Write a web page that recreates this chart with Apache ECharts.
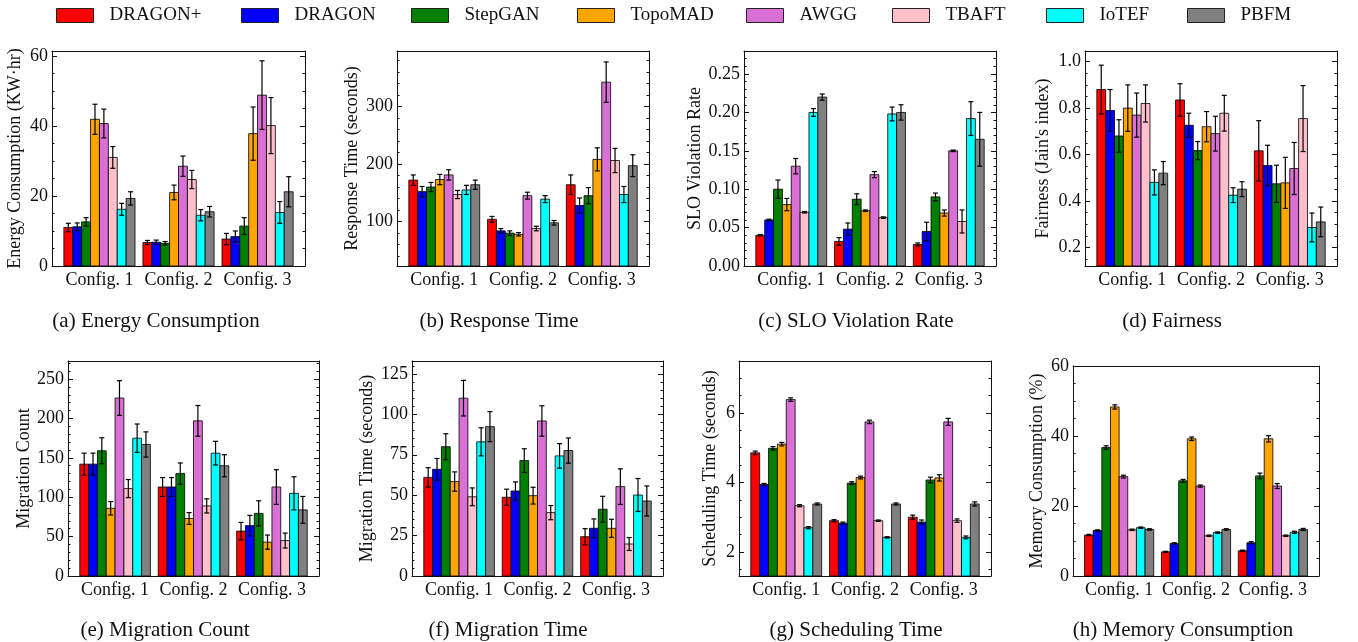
<!DOCTYPE html>
<html>
<head>
<meta charset="utf-8">
<script src="https://cdn.jsdelivr.net/npm/echarts@6/dist/echarts.min.js"></script>
<style>
html, body { margin: 0; padding: 0; background: #fff; }
#chart { width: 1358px; height: 642px; }
</style>
</head>
<body>
<div id="chart"></div>
<script>
const methods = ['DRAGON+', 'DRAGON', 'StepGAN', 'TopoMAD', 'AWGG', 'TBAFT', 'IoTEF', 'PBFM'];
const colors = ['#ff0000', '#0000ff', '#008000', '#ffa500', '#da70d6', '#ffc0cb', '#00ffff', '#808080'];
const configs = ['Config. 1', 'Config. 2', 'Config. 3'];

// one row per method, one column per config
const energyMean = [[11.0, 6.7, 7.7], [11.2, 6.8, 8.4], [12.6, 6.5, 11.4], [41.9, 21.0, 37.8], [40.7, 28.5, 48.8], [31.0, 24.7, 40.1], [16.2, 14.5, 15.3], [19.3, 15.5, 21.2]];
const energyErr = [[1.2, 0.6, 1.6], [1.1, 0.6, 1.6], [1.2, 0.5, 2.4], [4.3, 2.1, 7.6], [4.1, 2.9, 9.8], [3.1, 2.6, 8.0], [1.7, 1.6, 3.1], [1.9, 1.5, 4.3]];

const respMean = [[172, 104, 164], [152, 84, 128], [160, 80, 145], [173, 78, 208], [181, 145, 342], [147, 88, 206], [155, 139, 147], [164, 98, 197]];
const respErr = [[9, 5, 17], [9, 4, 13], [8, 4, 14], [9, 3, 20], [9, 6, 35], [7, 4, 21], [8, 6, 14], [8, 4, 19]];

const sloMean = [[0.040, 0.032, 0.028], [0.060, 0.048, 0.045], [0.100, 0.087, 0.090], [0.080, 0.072, 0.069], [0.130, 0.119, 0.150], [0.070, 0.063, 0.058], [0.200, 0.198, 0.192], [0.220, 0.200, 0.165]];
const sloErr = [[0.001, 0.005, 0.002], [0.001, 0.008, 0.012], [0.012, 0.007, 0.005], [0.008, 0.001, 0.004], [0.010, 0.004, 0.001], [0.001, 0.001, 0.015], [0.005, 0.009, 0.022], [0.004, 0.010, 0.035]];

const fairMean = [[0.880, 0.835, 0.616], [0.790, 0.726, 0.553], [0.680, 0.617, 0.474], [0.800, 0.720, 0.478], [0.770, 0.690, 0.540], [0.820, 0.778, 0.755], [0.480, 0.425, 0.286], [0.520, 0.451, 0.310]];
const fairErr = [[0.105, 0.070, 0.130], [0.090, 0.052, 0.087], [0.070, 0.039, 0.080], [0.100, 0.065, 0.110], [0.095, 0.075, 0.112], [0.080, 0.077, 0.142], [0.054, 0.032, 0.062], [0.050, 0.032, 0.064]];

const migCountMean = [[142, 113, 57], [142, 113, 64], [159, 130, 79.5], [86, 73, 43], [226, 197, 113], [111, 89, 45], [175, 156, 105], [167, 140, 84]];
const migCountErr = [[14, 12, 11], [14, 12, 13], [16.5, 13.5, 16], [8.5, 7.5, 9], [22, 19.5, 22], [11.5, 9, 9.5], [18, 15, 21], [16, 14, 17]];

const migTimeMean = [[61, 48.7, 24.3], [66, 52.6, 29.5], [80, 71.4, 41.3], [58.4, 49.7, 29.5], [110, 95.9, 55.3], [49, 39.2, 19.8], [83, 74.3, 50.1], [92.4, 77.6, 46.4]];
const migTimeErr = [[6, 5, 5], [6.7, 5.6, 5.8], [8, 7.3, 8], [6, 5.2, 5.6], [11, 9.4, 11], [5.5, 4.4, 4], [8.7, 7.6, 10.2], [9.3, 7.8, 9.3]];

const schedMean = [[4.85, 2.90, 3.00], [3.94, 2.83, 2.86], [4.98, 3.98, 4.07], [5.10, 4.14, 4.13], [6.38, 5.74, 5.74], [3.33, 2.90, 2.90], [2.70, 2.42, 2.42], [3.38, 3.38, 3.38]];
const schedErr = [[0.05, 0.03, 0.06], [0.03, 0.03, 0.06], [0.05, 0.04, 0.08], [0.05, 0.04, 0.09], [0.05, 0.05, 0.10], [0.03, 0.02, 0.05], [0.03, 0.02, 0.04], [0.03, 0.03, 0.06]];

const memMean = [[11.7, 6.9, 7.2], [13.0, 9.3, 9.5], [36.7, 27.2, 28.6], [48.3, 39.2, 39.2], [28.4, 25.7, 25.7], [13.2, 11.5, 11.5], [13.8, 12.4, 12.5], [13.3, 13.3, 13.3]];
const memErr = [[0.2, 0.15, 0.2], [0.2, 0.2, 0.3], [0.5, 0.4, 0.8], [0.6, 0.5, 0.9], [0.4, 0.3, 0.7], [0.2, 0.2, 0.2], [0.2, 0.2, 0.3], [0.2, 0.2, 0.3]];

const FONT = '"Liberation Serif", "Times New Roman", serif';
const INK = '#111';
const BAR_W = 0.9 / methods.length;

// layout of every subplot
const panels = [
    { title: '(a) Energy Consumption', yName: 'Energy Consumption (KW·hr)', mean: energyMean, err: energyErr, min: 0, max: 61.4, major: 20, minor: 5, dec: 0, box: [52, 51, 253, 215], nameGap: 28, tx: 156, ty: 321 },
    { title: '(b) Response Time', yName: 'Response Time (seconds)', mean: respMean, err: respErr, min: 23, max: 396, major: 100, minor: 20, dec: 0, box: [397, 51, 252, 215], nameGap: 36, tx: 499, ty: 321 },
    { title: '(c) SLO Violation Rate', yName: 'SLO Violation Rate', mean: sloMean, err: sloErr, min: 0, max: 0.28, major: 0.05, minor: 0.01, dec: 2, box: [744, 51, 252, 215], nameGap: 37, tx: 856, ty: 321 },
    { title: '(d) Fairness', yName: 'Fairness (Jain\'s index)', mean: fairMean, err: fairErr, min: 0.12, max: 1.046, major: 0.2, minor: 0.05, dec: 1, box: [1085, 51, 252, 215], nameGap: 33, tx: 1172, ty: 321 },
    { title: '(e) Migration Count', yName: 'Migration Count', mean: migCountMean, err: migCountErr, min: 0, max: 273, major: 50, minor: 10, dec: 0, box: [68, 361, 251, 215], nameGap: 34, tx: 165, ty: 630 },
    { title: '(f) Migration Time', yName: 'Migration Time (seconds)', mean: migTimeMean, err: migTimeErr, min: 0, max: 133, major: 25, minor: 5, dec: 0, box: [412, 361, 251, 215], nameGap: 36, tx: 508, ty: 630 },
    { title: '(g) Scheduling Time', yName: 'Scheduling Time (seconds)', mean: schedMean, err: schedErr, min: 1.31, max: 7.49, major: 2, minor: 0.5, dec: 0, box: [739, 361, 252, 215], nameGap: 20, tx: 856, ty: 630 },
    { title: '(h) Memory Consumption', yName: 'Memory Consumption (%)', mean: memMean, err: memErr, min: 0, max: 60, major: 20, minor: 5, dec: 0, box: [1073, 366, 246, 210], nameGap: 27, tx: 1183, ty: 630 },
];

const legendLeft = [56, 241, 411, 577, 746, 892, 1046, 1187];

function tickList(min, max, step) {
    const out = [];
    for (let i = Math.ceil(min / step - 1e-6); i * step <= max + 1e-9; i++) out.push(+(i * step).toFixed(6));
    return out;
}

const grid = [], xAxis = [], yAxis = [], series = [], graphic = [];

panels.forEach((p, g) => {
    grid.push({ left: p.box[0], top: p.box[1], width: p.box[2], height: p.box[3], containLabel: false, outerBoundsMode: 'none' });

    xAxis.push({
        gridIndex: g, type: 'value', min: -0.6, max: 2.6, position: 'bottom',
        axisLine: { show: true, onZero: false, lineStyle: { color: INK, width: 1 } },
        axisTick: { show: false },
        splitLine: { show: false },
        axisLabel: { customValues: [0, 1, 2], formatter: v => configs[Math.round(v)], fontFamily: FONT, fontSize: 18, color: INK, margin: 5 }
    });
    xAxis.push({
        gridIndex: g, type: 'value', min: -0.6, max: 2.6, position: 'top',
        axisLine: { show: true, onZero: false, lineStyle: { color: INK, width: 1 } },
        axisTick: { show: false }, axisLabel: { show: false }, splitLine: { show: false }
    });

    const majors = tickList(p.min, p.max, p.major);
    const minors = tickList(p.min, p.max, p.minor);
    const base = { gridIndex: g, type: 'value', min: p.min, max: p.max, splitLine: { show: false } };

    yAxis.push(Object.assign({}, base, {
        position: 'left',
        axisLine: { show: true, onZero: false, lineStyle: { color: INK, width: 1 } },
        axisTick: { show: true, inside: true, length: 5, customValues: majors, lineStyle: { color: INK } },
        axisLabel: { customValues: majors, formatter: v => v.toFixed(p.dec), fontFamily: FONT, fontSize: 18, color: INK, margin: 4 },
        name: p.yName, nameLocation: 'middle', nameGap: p.nameGap,
        nameTextStyle: { fontFamily: FONT, fontSize: 18, color: INK }
    }));
    yAxis.push(Object.assign({}, base, {
        position: 'right',
        axisLine: { show: true, onZero: false, lineStyle: { color: INK, width: 1 } },
        axisTick: { show: true, inside: true, length: 5, customValues: majors, lineStyle: { color: INK } },
        axisLabel: { show: false }
    }));
    // minor ticks, one copy lands on each side
    for (let s = 0; s < 2; s++) {
        yAxis.push(Object.assign({}, base, {
            position: s ? 'left' : 'right',
            axisLine: { show: false, onZero: false },
            axisTick: { show: true, inside: true, length: 2.5, customValues: minors, lineStyle: { color: INK } },
            axisLabel: { show: false }
        }));
    }

    const floor = Math.max(0, p.min);
    methods.forEach((name, m) => {
        series.push({
            type: 'custom',
            name: name,
            xAxisIndex: 2 * g,
            yAxisIndex: 4 * g,
            itemStyle: { color: colors[m] },
            encode: { x: 0, y: 1 },
            data: configs.map((c, k) => [k, p.mean[m][k], p.err[m][k]]),
            renderItem: (params, api) => {
                const cx = api.value(0) + (m - 3.5) * BAR_W;
                const v = api.value(1), e = api.value(2);
                const a = api.coord([cx - BAR_W / 2, v]);
                const b = api.coord([cx + BAR_W / 2, floor]);
                const t = api.coord([cx, v + e]);
                const u = api.coord([cx, v - e]);
                const cap = 2.5;
                const ln = { stroke: '#000', lineWidth: 1.2 };
                return {
                    type: 'group',
                    children: [
                        { type: 'rect', shape: { x: a[0], y: a[1], width: b[0] - a[0], height: b[1] - a[1] }, style: { fill: colors[m], stroke: 'rgba(0,0,0,0.8)', lineWidth: 1 } },
                        { type: 'line', shape: { x1: t[0], y1: t[1], x2: u[0], y2: u[1] }, style: ln },
                        { type: 'line', shape: { x1: t[0] - cap, y1: t[1], x2: t[0] + cap, y2: t[1] }, style: ln },
                        { type: 'line', shape: { x1: u[0] - cap, y1: u[1], x2: u[0] + cap, y2: u[1] }, style: ln }
                    ]
                };
            }
        });
    });

    graphic.push({
        type: 'text', x: p.tx, y: p.ty,
        style: { text: p.title, fontFamily: FONT, fontSize: 21, fill: INK, align: 'center', verticalAlign: 'middle' }
    });
});

const legend = methods.map((name, m) => ({
    data: [name],
    left: legendLeft[m], top: 6,
    padding: 0,
    icon: 'rect',
    itemWidth: 37, itemHeight: 14,
    selectedMode: false,
    itemStyle: { borderColor: '#222', borderWidth: 1 },
    textStyle: { fontFamily: FONT, fontSize: 19, color: INK, padding: [0, 0, 0, 11] }
}));

const chart = echarts.init(document.getElementById('chart'));
chart.setOption({
    animation: false,
    backgroundColor: '#fff',
    legend: legend,
    grid: grid,
    xAxis: xAxis,
    yAxis: yAxis,
    series: series,
    graphic: graphic
});
</script>
</body>
</html>
